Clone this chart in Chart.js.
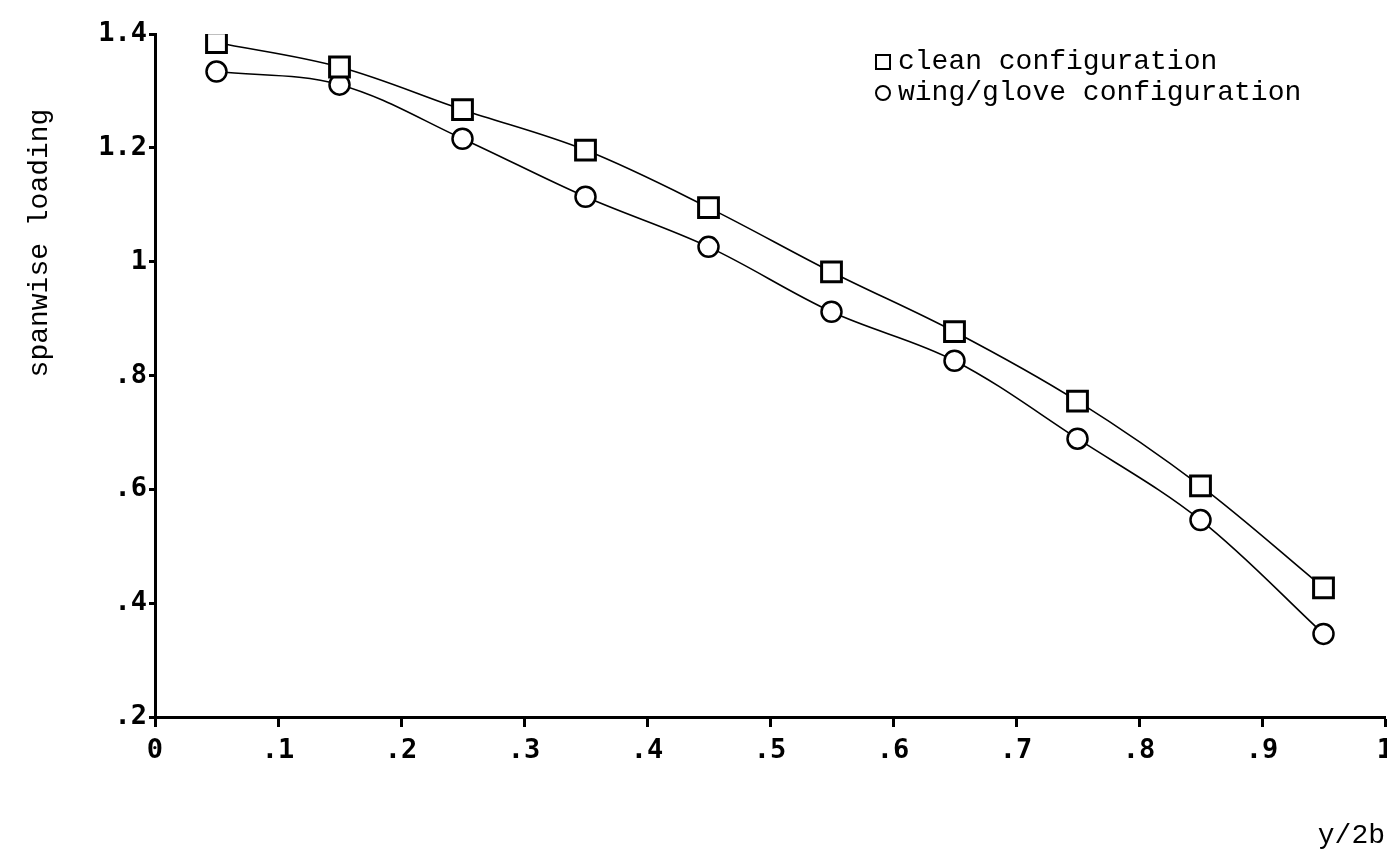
<!DOCTYPE html>
<html>
<head>
<meta charset="utf-8">
<script src="https://cdn.jsdelivr.net/npm/chart.js@4/dist/chart.umd.min.js"></script>
<style>
  html, body { margin: 0; background: #fff; overflow: hidden; }
  #wrap { width: 1387px; height: 859px; position: relative; }
</style>
</head>
<body>
<div id="wrap"><canvas id="chart"></canvas></div>
<script>
// spanwise position y/2b of each station
var stations = [0.05, 0.15, 0.25, 0.35, 0.45, 0.55, 0.65, 0.75, 0.85, 0.95];
var cleanLoading = [1.385, 1.342, 1.267, 1.196, 1.095, 0.982, 0.877, 0.755, 0.606, 0.427];
var gloveLoading = [1.334, 1.311, 1.216, 1.114, 1.026, 0.912, 0.826, 0.689, 0.546, 0.346];
var seriesLabels = ['clean configuration', 'wing/glove configuration'];
var xTitle = 'y/2b';
var yTitle = 'spanwise loading';

var monoFont = '"Liberation Mono", "DejaVu Sans Mono", monospace';

function toPoints(xs, ys) {
  return xs.map((x, i) => ({ x: x, y: ys[i] }));
}

// .2 style labels, no leading zero
function shortLabel(v) {
  var r = Math.round(v * 10) / 10;
  var s = String(r);
  return s.indexOf('0.') === 0 ? s.substring(1) : s;
}

// axis title on the left and the legend box top right
var extras = {
  id: 'extras',
  afterDraw(chart) {
    var ctx = chart.ctx;
    ctx.save();
    ctx.fillStyle = '#000';
    ctx.font = '28px ' + monoFont;
    ctx.textBaseline = 'middle';

    ctx.save();
    ctx.translate(40, 243);
    ctx.rotate(-Math.PI / 2);
    ctx.textAlign = 'center';
    ctx.fillText(yTitle, 0, 0);
    ctx.restore();

    var lx = 883, ly = [62, 93];
    chart.data.datasets.forEach((ds, i) => {
      ctx.strokeStyle = '#000';
      ctx.lineWidth = 2;
      ctx.beginPath();
      if (ds.pointStyle === 'rect') {
        ctx.rect(lx - 7, ly[i] - 7, 14, 14);
      } else {
        ctx.arc(lx, ly[i], 7, 0, Math.PI * 2);
      }
      ctx.stroke();
      ctx.textAlign = 'left';
      ctx.fillText(ds.label, lx + 15, ly[i]);
    });
    ctx.restore();
  }
};

var ctx = document.getElementById('chart').getContext('2d');
var myChart = new Chart(ctx, {
  type: 'line',
  data: {
    datasets: [
      {
        label: seriesLabels[0],
        data: toPoints(stations, cleanLoading),
        borderColor: '#000',
        borderWidth: 1.6,
        tension: 0.35,
        pointStyle: 'rect',
        pointRadius: 14,
        pointBorderWidth: 3,
        pointBorderColor: '#000',
        pointBackgroundColor: '#fff',
        fill: false,
      },
      {
        label: seriesLabels[1],
        data: toPoints(stations, gloveLoading),
        borderColor: '#000',
        borderWidth: 1.6,
        tension: 0.35,
        pointStyle: 'circle',
        pointRadius: 10,
        pointBorderWidth: 2.5,
        pointBorderColor: '#000',
        pointBackgroundColor: '#fff',
        fill: false,
      }
    ]
  },
  options: {
    responsive: true,
    maintainAspectRatio: false,
    animation: false,
    layout: { autoPadding: false, padding: { top: 34, right: 2, bottom: 0, left: 0 } },
    plugins: {
      legend: { display: false },
      tooltip: { enabled: false }
    },
    scales: {
      x: {
        type: 'linear',
        min: 0,
        max: 1,
        border: { display: true, color: '#000', width: 3 },
        grid: { drawOnChartArea: false, drawTicks: true, tickLength: 10, tickWidth: 3, tickColor: '#000' },
        ticks: {
          stepSize: 0.1,
          padding: 8,
          color: '#000',
          maxRotation: 0,
          autoSkip: false,
          font: { family: '"DejaVu Sans Mono", monospace', size: 27, weight: 'bold' },
          callback: (v) => shortLabel(v)
        },
        title: {
          display: true,
          text: xTitle,
          align: 'end',
          color: '#000',
          font: { family: monoFont, size: 28 },
          padding: { top: 0, bottom: 7 }
        },
        afterFit: (s) => { s.height = 142; s.paddingLeft = 0; s.paddingRight = 0; }
      },
      y: {
        min: 0.2,
        max: 1.4,
        border: { display: true, color: '#000', width: 3 },
        grid: { drawOnChartArea: false, drawTicks: true, tickLength: 6, tickWidth: 3, tickColor: '#000' },
        ticks: {
          stepSize: 0.2,
          padding: 2,
          color: '#000',
          font: { family: '"DejaVu Sans Mono", monospace', size: 27, weight: 'bold' },
          callback: (v) => shortLabel(v)
        },
        afterFit: (s) => { s.width = 155; }
      }
    }
  },
  plugins: [extras]
});
</script>
</body>
</html>
